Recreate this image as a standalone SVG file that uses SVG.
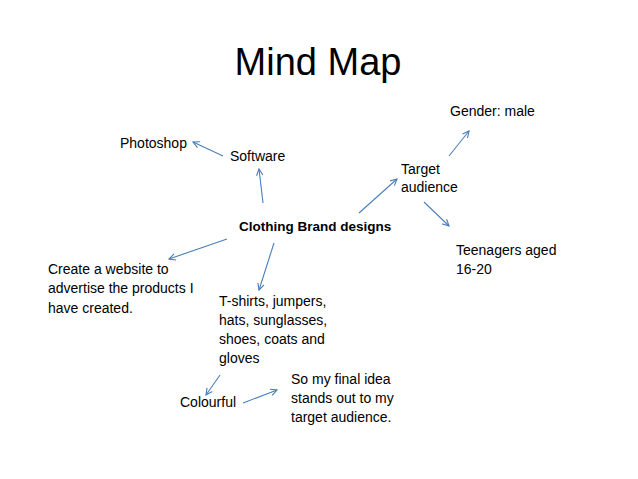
<svg xmlns="http://www.w3.org/2000/svg" width="638" height="479" viewBox="0 0 638 479">
<style>
text{font-family:"Liberation Sans",Arial,sans-serif;font-size:14px;fill:#000}
.title{font-size:38px}
.bold{font-weight:bold;font-size:13.5px}
.c line{stroke:#4A7EBB;stroke-width:1.1;marker-end:url(#arr)}
</style>
<defs>
<marker id="arr" viewBox="0 0 10 10" refX="9" refY="5" markerWidth="8" markerHeight="8" markerUnits="userSpaceOnUse" orient="auto">
<path d="M1,1 L9,5 L1,9" fill="none" stroke="#4A7EBB" stroke-width="1.4"/>
</marker>
</defs>
<rect width="638" height="479" fill="#fff"/>
<text class="title" x="318" y="75" text-anchor="middle">Mind Map</text>
<g class="c" id="connectors">
<line x1="223" y1="156" x2="193" y2="142"/>
<line x1="263" y1="203" x2="259" y2="169"/>
<line x1="359" y1="213" x2="397" y2="179"/>
<line x1="449" y1="156" x2="469" y2="131"/>
<line x1="424" y1="202" x2="449" y2="226"/>
<line x1="227" y1="239" x2="169" y2="259"/>
<line x1="274" y1="243" x2="259" y2="290"/>
<line x1="220" y1="375" x2="206" y2="395"/>
<line x1="243" y1="403" x2="277" y2="390"/>
</g>
<g id="center"><text class="bold" x="239" y="231">Clothing Brand designs</text></g>
<g id="gender"><text x="450" y="116">Gender: male</text></g>
<g id="photoshop"><text x="120" y="148">Photoshop</text></g>
<g id="software"><text x="230" y="161">Software</text></g>
<g id="target"><text x="401" y="174">Target</text><text x="401" y="192">audience</text></g>
<g id="teen"><text x="456" y="255">Teenagers aged</text><text x="456" y="274">16-20</text></g>
<g id="website"><text x="48" y="274">Create a website to</text><text x="48" y="293">advertise the products I</text><text x="48" y="313">have created.</text></g>
<g id="tshirts"><text x="219" y="306">T-shirts, jumpers,</text><text x="219" y="325">hats, sunglasses,</text><text x="219" y="344">shoes, coats and</text><text x="219" y="363">gloves</text></g>
<g id="final"><text x="291" y="384">So my final idea</text><text x="291" y="403">stands out to my</text><text x="291" y="422">target audience.</text></g>
<g id="colourful"><text x="180" y="407">Colourful</text></g>
</svg>
